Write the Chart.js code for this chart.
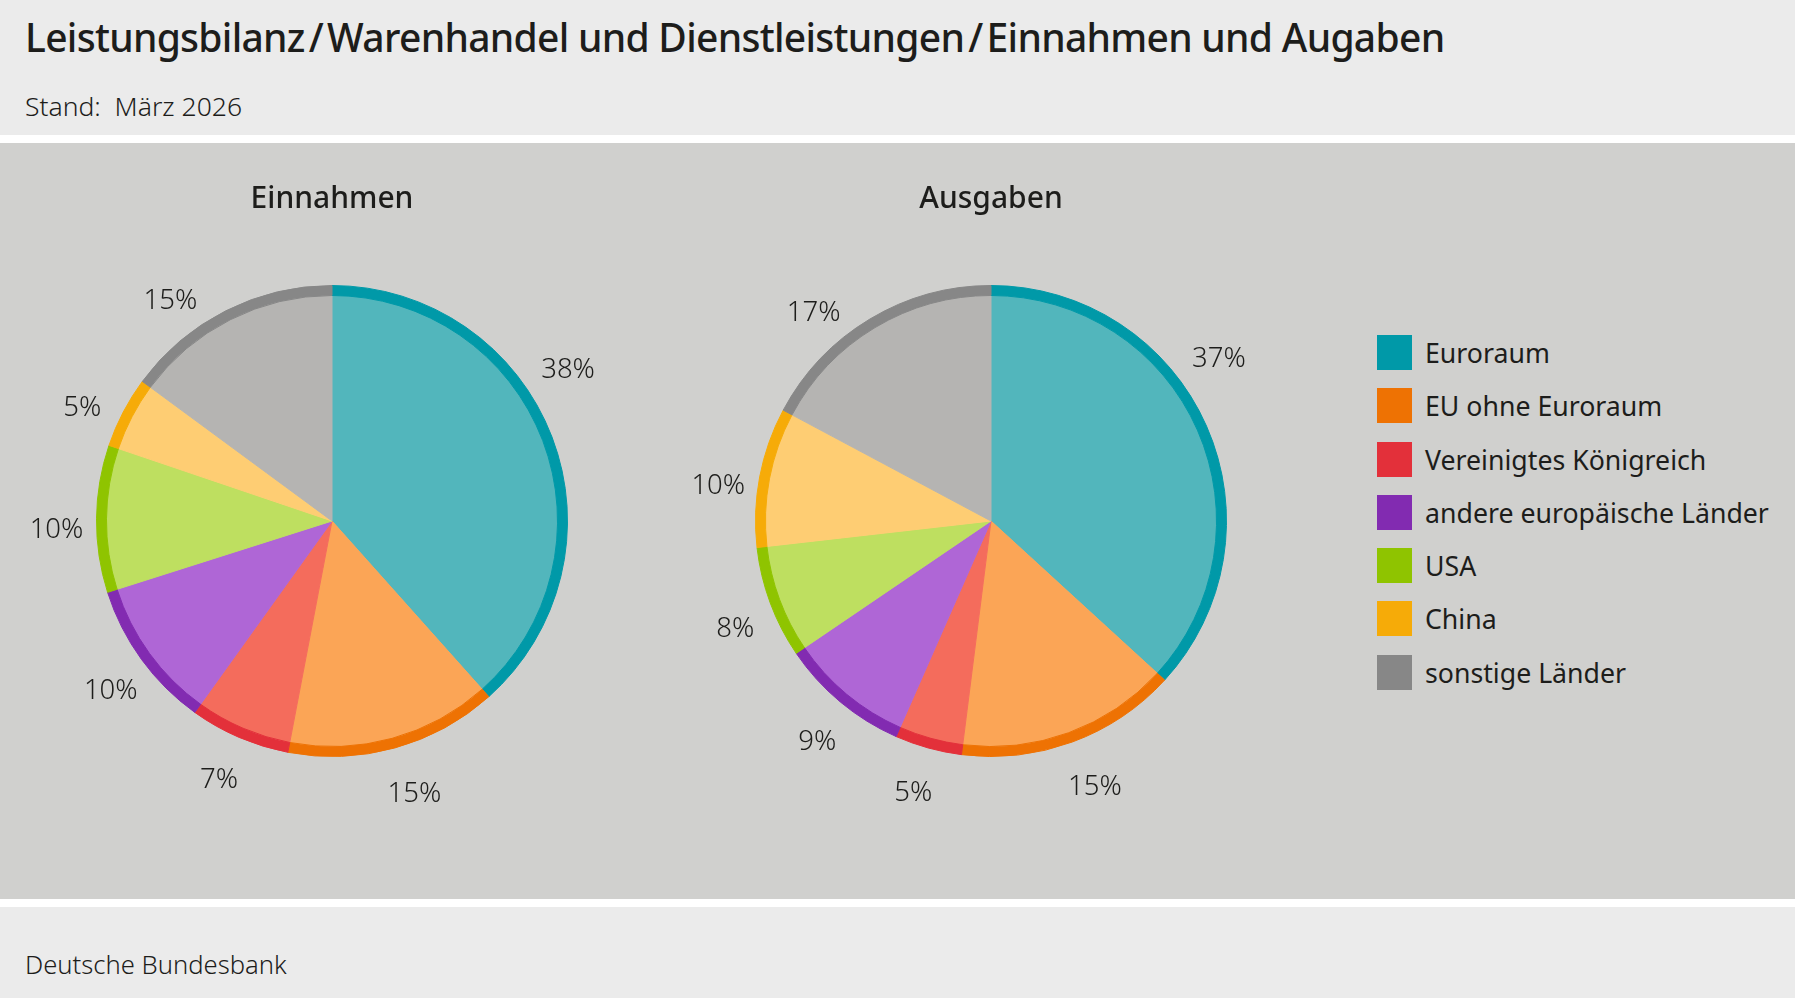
<!DOCTYPE html>
<html lang="de">
<head>
<meta charset="utf-8">
<title>Leistungsbilanz</title>
<script src="https://cdn.jsdelivr.net/npm/chart.js@4.4.1/dist/chart.umd.min.js"></script>
<style>
    html, body { margin: 0; padding: 0; background: #fff; }
    body { width: 1795px; height: 998px; position: relative; overflow: hidden; font-family: "Noto Sans", sans-serif; color: #1d1d1b; }
    #head { position: absolute; left: 0; top: 0; width: 1795px; height: 135px; background: #ebebeb; }
    #title { position: absolute; left: 25px; top: 17px; font-size: 39px; line-height: 39px; font-weight: 500; letter-spacing: -0.7px; white-space: nowrap; }
    #title .sl { margin: 0 4px; }
    #stand { position: absolute; left: 25px; top: 93px; font-size: 26.5px; line-height: 26px; font-weight: 300; white-space: pre; }
    #plot { position: absolute; left: 0; top: 143px; width: 1795px; height: 756px; background: #d0d0ce; }
    #foot { position: absolute; left: 0; top: 907px; width: 1795px; height: 91px; background: #ebebeb; }
    #source { position: absolute; left: 25px; top: 45px; font-size: 25.6px; line-height: 26px; font-weight: 300; }
    .pie { position: absolute; top: 0; }
    #legend { position: absolute; left: 1377px; top: 192px; }
    .item { height: 35px; margin-bottom: 18.3px; display: flex; align-items: center; font-size: 26.7px; white-space: nowrap; }
    .box { width: 35px; height: 35px; margin-right: 13px; flex: none; }
</style>
</head>
<body>
<div id="head">
    <div id="title">Leistungsbilanz<span class="sl">/</span>Warenhandel und Dienstleistungen<span class="sl">/</span>Einnahmen und Augaben</div>
    <div id="stand">Stand:  März 2026</div>
</div>
<div id="plot">
    <canvas id="pieIn" class="pie" width="662" height="756" style="left:1px"></canvas>
    <canvas id="pieOut" class="pie" width="662" height="756" style="left:660px"></canvas>
    <div id="legend"></div>
</div>
<div id="foot">
    <div id="source">Deutsche Bundesbank</div>
</div>
<script>
const categories = ["Euroraum", "EU ohne Euroraum", "Vereinigtes Königreich", "andere europäische Länder", "USA", "China", "sonstige Länder"];
const einnahmen = [38.4, 14.6, 6.9, 10.2, 10.1, 4.9, 14.9];
const ausgaben = [36.8, 15.2, 4.6, 8.9, 7.7, 9.6, 17.2];

const edgeColors = ["#0099a8", "#ee7203", "#e3303a", "#822bb1", "#8fc400", "#f6ab08", "#878787"];
const fillColors = ["#52b6bc", "#fba556", "#f46c5c", "#af66d6", "#bedf60", "#fecd73", "#b5b4b2"];

// percent labels outside the pie, near the middle of each slice
const pctLabels = {
    id: "pctLabels",
    afterDatasetsDraw(chart, args, opts) {
        const ctx = chart.ctx;
        const ring = chart.getDatasetMeta(0).data;
        const values = chart.data.datasets[1].data;
        ctx.save();
        ctx.font = "300 27.5px 'Noto Sans'";
        ctx.fillStyle = "#1d1d1b";
        ctx.textAlign = "center";
        ctx.textBaseline = "middle";
        chart.getDatasetMeta(1).data.forEach(function (arc, i) {
            const a = (arc.startAngle + arc.endAngle) / 2 + (opts.shift[i] || 0) * Math.PI / 180;
            const r = ring[i].outerRadius + opts.gap;
            ctx.fillText(Math.round(values[i]) + "%",
                arc.x + r * Math.cos(a) + opts.dx, arc.y + r * Math.sin(a) + opts.dy);
        });
        ctx.restore();
    }
};

function makePie(id, title, values) {
    return new Chart(document.getElementById(id), {
        type: "doughnut",
        data: {
            labels: categories,
            datasets: [
                { data: values, backgroundColor: edgeColors, borderColor: edgeColors, borderWidth: 1, weight: 10 },
                { data: values, backgroundColor: fillColors, borderColor: fillColors, borderWidth: 1, weight: 226 }
            ]
        },
        options: {
            responsive: false,
            animation: false,
            events: [],
            cutout: 0,
            offset: 0,
            hoverOffset: 0,
            hoverBorderWidth: 0,
            layout: { padding: { top: 0, bottom: 142, left: 95, right: 95 } },
            plugins: {
                legend: { display: false },
                tooltip: { enabled: false },
                title: {
                    display: true,
                    text: title,
                    color: "#1d1d1b",
                    font: { family: "'Noto Sans'", size: 30, weight: "500" },
                    padding: { top: 38, bottom: 68 }
                },
                pctLabels: { gap: 44, dx: 4, dy: 5, shift: [-13, -0.8, 1.5, -0.3, -1.3, -2.7, -9.5] }
            }
        },
        plugins: [pctLabels]
    });
}

const legend = document.getElementById("legend");
categories.forEach(function (name, i) {
    const item = document.createElement("div");
    item.className = "item";
    const box = document.createElement("span");
    box.className = "box";
    box.style.background = edgeColors[i];
    item.appendChild(box);
    item.appendChild(document.createTextNode(name));
    legend.appendChild(item);
});

Promise.all([
    document.fonts.load("300 27px 'Noto Sans'"),
    document.fonts.load("500 30px 'Noto Sans'")
]).catch(function () {}).then(function () {
    makePie("pieIn", "Einnahmen", einnahmen);
    makePie("pieOut", "Ausgaben", ausgaben);
});
</script>
</body>
</html>
